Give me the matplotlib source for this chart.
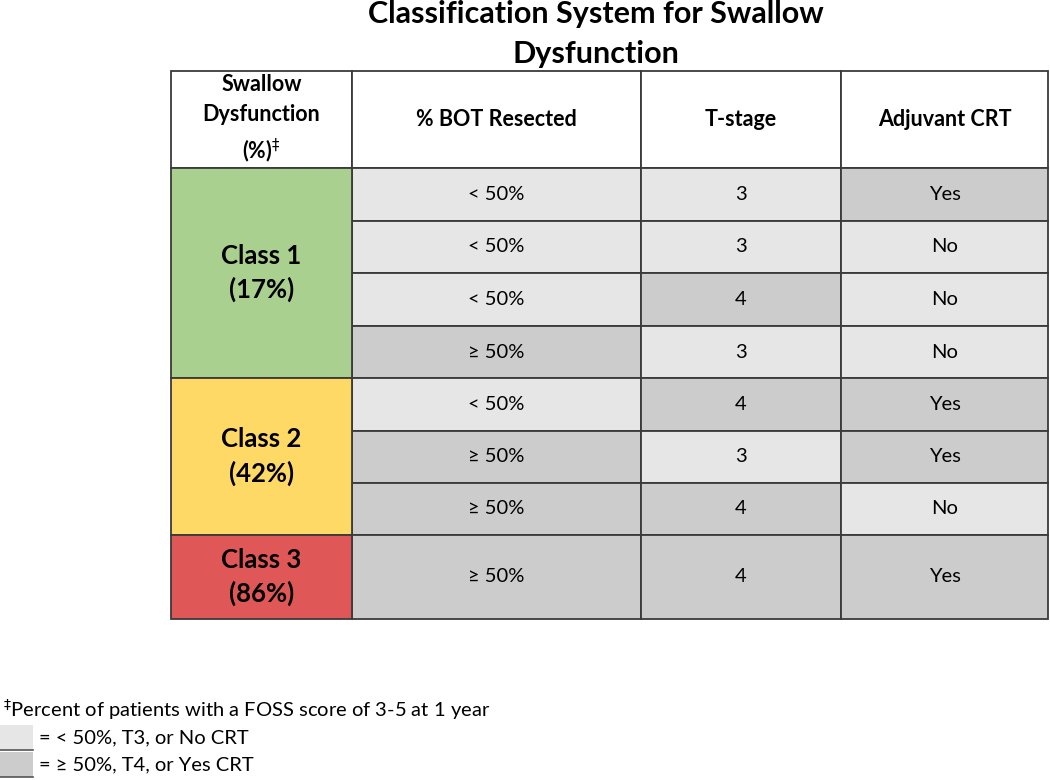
import matplotlib.pyplot as plt
from matplotlib.patches import Rectangle

plt.rcParams['font.family'] = ['Lato', 'DejaVu Sans']

# table content
headers = ["Swallow\nDysfunction\n(%)$^{\u2021}$", "% BOT Resected", "T-stage", "Adjuvant CRT"]
classes = ["Class 1\n(17%)", "Class 2\n(42%)", "Class 3\n(86%)"]
class_rows = [4, 3, 1]
class_colors = ["#a9d08e", "#ffd966", "#e05757"]
bot = ["< 50%", "< 50%", "< 50%", "\u2265 50%", "< 50%", "\u2265 50%", "\u2265 50%", "\u2265 50%"]
tstage = ["3", "3", "4", "3", "4", "3", "4", "4"]
crt = ["Yes", "No", "No", "No", "Yes", "Yes", "No", "Yes"]

light = "#e7e6e6"
dark = "#cccccc"
edge = "#3a3a3a"

# layout in pixels
col_x = [171, 352, 641, 841, 1048]
top = 71
head_h = 97
row_h = [53, 52, 53, 52, 53, 52, 52, 84]

fig = plt.figure(figsize=(10.5, 7.8), dpi=100)
ax = fig.add_axes([0, 0, 1, 1])
ax.set_xlim(0, 1050)
ax.set_ylim(780, 0)
ax.axis('off')

fig.text(596 / 1050, 1 - 34 / 780, "Classification System for Swallow\nDysfunction",
         ha='center', va='center', fontsize=22, fontweight='bold', linespacing=1.5)


def cell(x0, x1, y0, y1, color, text, **kw):
    ax.add_patch(Rectangle((x0, y0), x1 - x0, y1 - y0, facecolor=color,
                           edgecolor=edge, linewidth=1.3))
    ax.text((x0 + x1) / 2, (y0 + y1) / 2, text, ha='center', va='center', **kw)


# header
for i, h in enumerate(headers):
    cell(col_x[i], col_x[i + 1], top, top + head_h, "white", h,
         fontsize=15.5, fontweight='bold', linespacing=1.55)

# rows
y = top + head_h
row_y = []
for h in row_h:
    row_y.append((y, y + h))
    y += h

for r, (y0, y1) in enumerate(row_y):
    c1 = dark if bot[r].startswith("\u2265") else light
    c2 = dark if tstage[r] == "4" else light
    c3 = dark if crt[r] == "Yes" else light
    cell(col_x[1], col_x[2], y0, y1, c1, bot[r], fontsize=14.5)
    cell(col_x[2], col_x[3], y0, y1, c2, tstage[r], fontsize=14.5)
    cell(col_x[3], col_x[4], y0, y1, c3, crt[r], fontsize=14.5)

start = 0
for name, n, col in zip(classes, class_rows, class_colors):
    y0 = row_y[start][0]
    y1 = row_y[start + n - 1][1]
    cell(col_x[0], col_x[1], y0, y1, col, name, fontsize=18.5, fontweight='bold',
         linespacing=1.45)
    start += n

# footnote and legend
ax.text(3, 710, "$^{\u2021}$Percent of patients with a FOSS score of 3-5 at 1 year",
        ha='left', va='center', fontsize=14.5)
legend_items = [(light, "= < 50%, T3, or No CRT"), (dark, "= \u2265 50%, T4, or Yes CRT")]
ly = 725
for color, label in legend_items:
    ax.add_patch(Rectangle((0, ly), 33, 25, facecolor=color, edgecolor='none'))
    ax.plot([0, 33], [ly + 25, ly + 25], color='#555555', lw=1.2)
    ax.text(39, ly + 13, label, ha='left', va='center', fontsize=14.5)
    ly += 27

fig.savefig("out.png", dpi=100)
